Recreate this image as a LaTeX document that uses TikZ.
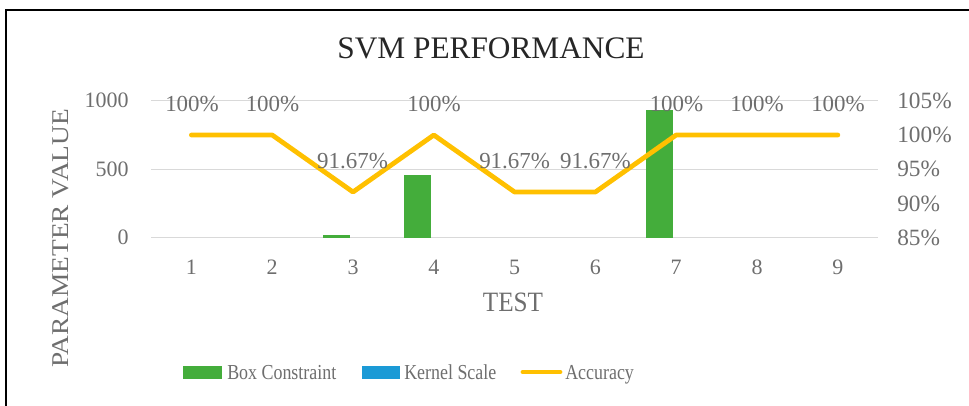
\documentclass[tikz,border=0pt]{standalone}
\usepackage{fontspec}
\setmainfont{Liberation Serif}
\usepackage{xcolor}
\definecolor{svmgreen}{HTML}{44AD3B}
\definecolor{svmblue}{HTML}{1B9AD6}
\definecolor{svmyellow}{HTML}{FFC000}
\definecolor{svmgrid}{HTML}{D9D9D9}
\definecolor{svmtext}{HTML}{6E6E6E}
\tikzset{
  gridline/.style={svmgrid, line width=1pt},
  ticklabel/.style={font=\fontsize{16.5}{16.5}\selectfont, text=svmtext, inner sep=0pt},
  pctlabel/.style={font=\fontsize{17.5}{17.5}\selectfont, text=svmtext, inner sep=0pt, anchor=west},
  datalabel/.style={font=\fontsize{17.2}{17.2}\selectfont, text=svmtext, inner sep=0pt},
  legendlabel/.style={font=\fontsize{16}{16}\selectfont, text=svmtext, anchor=base west, inner sep=0pt},
  boxbar/.style={fill=svmgreen, draw=none}
}

\begin{document}
\begin{tikzpicture}[x=0.75pt, y=-0.75pt]
  \useasboundingbox (0,0) rectangle (969,405);

  % Frame
  \draw[line width=1.3pt] (6,412) -- (6,10) -- (976,10);

  % Title
  \node[font=\fontsize{23.5}{23.5}\selectfont, text=black!85] (title) at (491,48) {SVM PERFORMANCE};

  % Grid
  \draw[gridline] (151,100.7) -- (878,100.7);
  \draw[gridline] (151,169.2) -- (878,169.2);
  \draw[gridline] (151,237.7) -- (878,237.7);

  % Left axis
  \node[ticklabel, anchor=east] (l1000) at (129,100.7) {1000};
  \node[ticklabel, anchor=east] (l500) at (129,169.2) {500};
  \node[ticklabel, anchor=east] (l0) at (129,237.7) {0};
  \node[font=\fontsize{20.5}{20.5}\selectfont, text=svmtext, rotate=90] (ytitle) at (61,238.5)
    {\scalebox{1}[0.88]{PARAMETER VALUE}};

  % Right axis
  \node[pctlabel] (r105) at (897,100.7) {105\%};
  \node[pctlabel] (r100) at (897,135) {100\%};
  \node[pctlabel] (r95) at (897,169.2) {95\%};
  \node[pctlabel] (r90) at (897,203.5) {90\%};
  \node[pctlabel] (r85) at (897,237.7) {85\%};

  % Categories
  \node[ticklabel] (c1) at (191.4,267) {1};
  \node[ticklabel] (c2) at (272.2,267) {2};
  \node[ticklabel] (c3) at (353,267) {3};
  \node[ticklabel] (c4) at (433.8,267) {4};
  \node[ticklabel] (c5) at (514.6,267) {5};
  \node[ticklabel] (c6) at (595.4,267) {6};
  \node[ticklabel] (c7) at (676.2,267) {7};
  \node[ticklabel] (c8) at (757,267) {8};
  \node[ticklabel] (c9) at (837.8,267) {9};
  \node[font=\fontsize{21}{21}\selectfont, text=svmtext] (xtitle) at (513,302)
    {\scalebox{0.9}[1]{TEST}};

  % Box constraint bars
  \fill[boxbar] (323,235) rectangle (350,237.7);
  \fill[boxbar] (404,175) rectangle (431,237.7);
  \fill[boxbar] (646,110) rectangle (673,237.7);

  % Accuracy line
  \coordinate (a1) at (191.4,135);
  \coordinate (a2) at (272.2,135);
  \coordinate (a3) at (353,192);
  \coordinate (a4) at (433.8,135);
  \coordinate (a5) at (514.6,192);
  \coordinate (a6) at (595.4,192);
  \coordinate (a7) at (676.2,135);
  \coordinate (a8) at (757,135);
  \coordinate (a9) at (837.8,135);
  \draw[svmyellow, line width=3.6pt, line join=round, line cap=round]
    (a1) -- (a2) -- (a3) -- (a4) -- (a5) -- (a6) -- (a7) -- (a8) -- (a9);

  % Data labels
  \node[datalabel] (d1) at (192,104) {100\%};
  \node[datalabel] (d2) at (272.5,104) {100\%};
  \node[datalabel] (d3) at (352.5,161) {91.67\%};
  \node[datalabel] (d4) at (434,104) {100\%};
  \node[datalabel] (d5) at (514.6,161) {91.67\%};
  \node[datalabel] (d6) at (595.4,161) {91.67\%};
  \node[datalabel] (d7) at (676.5,104) {100\%};
  \node[datalabel] (d8) at (757,104) {100\%};
  \node[datalabel] (d9) at (838,104) {100\%};

  % Legend
  \fill[svmgreen] (183,366) rectangle (222,379);
  \node[legendlabel] (lgbox) at (227,379) {\scalebox{0.84}[1]{Box Constraint}};
  \fill[svmblue] (362,366) rectangle (400,379);
  \node[legendlabel] (lgkernel) at (404,379) {\scalebox{0.84}[1]{Kernel Scale}};
  \coordinate (lgs) at (523,372);
  \coordinate (lge) at (560,372);
  \draw[svmyellow, line width=3.6pt, line cap=round] (lgs) -- (lge);
  \node[legendlabel] (lgacc) at (565,379) {\scalebox{0.84}[1]{Accuracy}};
\end{tikzpicture}
\end{document}
